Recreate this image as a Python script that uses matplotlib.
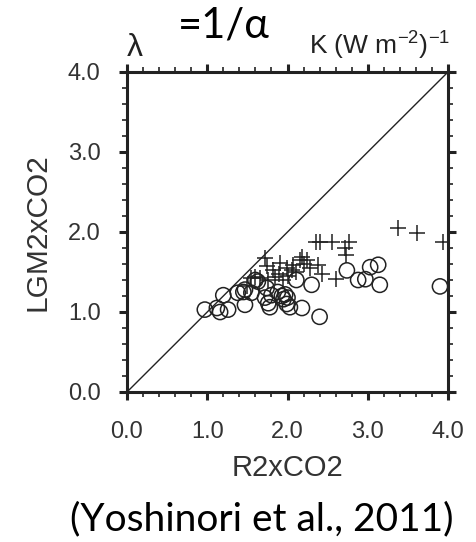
import numpy as np
import matplotlib
matplotlib.use('Agg')
import matplotlib.pyplot as plt
from matplotlib.ticker import MultipleLocator

# Daten
circle_x = [0.97, 1.12, 1.16, 1.26, 1.20, 1.38, 1.45, 1.47, 1.55, 1.47, 1.60, 1.63,
            1.74, 1.76, 1.78, 1.80, 1.93, 1.97, 2.00, 1.95, 2.03, 2.18, 2.11, 2.30,
            2.40, 2.74, 2.88, 2.97, 3.03, 3.13, 3.15, 3.90, 1.72, 1.88, 1.99]
circle_y = [1.03, 1.05, 1.00, 1.03, 1.21, 1.24, 1.25, 1.28, 1.24, 1.09, 1.40, 1.38,
            1.30, 1.11, 1.06, 1.21, 1.20, 1.22, 1.18, 1.16, 1.06, 1.05, 1.40, 1.34,
            0.94, 1.52, 1.40, 1.41, 1.56, 1.59, 1.34, 1.32, 1.18, 1.25, 1.10]

cross_x = [1.72, 1.74, 1.82, 1.91, 1.89, 1.99, 2.07, 2.18, 2.16, 2.24, 2.36, 1.60,
           1.66, 1.76, 1.55, 1.94, 2.00, 2.05, 2.10, 2.20, 2.38, 2.43, 2.60, 2.40,
           2.56, 2.72, 2.77, 2.73, 3.38, 3.61, 3.94, 1.50, 1.85, 2.28]
cross_y = [1.67, 1.57, 1.53, 1.61, 1.48, 1.55, 1.59, 1.69, 1.65, 1.65, 1.88, 1.44,
           1.42, 1.40, 1.42, 1.40, 1.45, 1.53, 1.50, 1.60, 1.59, 1.48, 1.41, 1.88,
           1.88, 1.80, 1.87, 1.71, 2.05, 1.99, 1.87, 1.33, 1.44, 1.55]

ticks = [0.0, 1.0, 2.0, 3.0, 4.0]
tick_labels = ['0.0', '1.0', '2.0', '3.0', '4.0']

W, H = 477, 542
fig = plt.figure(figsize=(W / 100, H / 100), dpi=100)
ax = fig.add_axes([127 / W, 1 - 392 / H, (448 - 127) / W, (392 - 72) / H])

arial = 'Liberation Sans'
txt_col = '#333333'

# 1:1 Linie
ax.plot([0, 4], [0, 4], color='#222222', lw=1.0, zorder=2)

ax.scatter(circle_x, circle_y, s=120, facecolors='none', edgecolors='#222222',
           linewidths=1.1, zorder=3)
ax.scatter(cross_x, cross_y, s=130, marker='+', color='#222222',
           linewidths=1.1, zorder=3)

ax.set_xlim(0, 4)
ax.set_ylim(0, 4)

for sp in ax.spines.values():
    sp.set_linewidth(2.2)
    sp.set_color('#222222')

ax.xaxis.set_major_locator(MultipleLocator(1.0))
ax.yaxis.set_major_locator(MultipleLocator(1.0))
ax.xaxis.set_minor_locator(MultipleLocator(0.2))
ax.yaxis.set_minor_locator(MultipleLocator(0.2))
ax.tick_params(which='both', direction='out', top=True, right=True,
               color='#222222')
ax.tick_params(which='major', length=6, width=2.2)
ax.tick_params(which='minor', length=3.5, width=1.2)
ax.set_xticks(ticks)
ax.set_yticks(ticks)
ax.set_xticklabels(tick_labels, fontfamily=arial, fontsize=17, color=txt_col)
ax.set_yticklabels(tick_labels, fontfamily=arial, fontsize=17, color=txt_col)
ax.tick_params(axis='x', pad=15)
ax.tick_params(axis='y', pad=13)

ax.set_xlabel('R2xCO2', fontfamily=arial, fontsize=21, color=txt_col, labelpad=8)
ax.set_ylabel('LGM2xCO2', fontfamily=arial, fontsize=21.5, color=txt_col, labelpad=12)

# Beschriftungen oben
fig.text(135 / W, 1 - 48 / H, 'λ', fontfamily=arial, fontsize=23, ha='center',
         va='center', color='#222222')
fig.text(450 / W, 1 - 54 / H, r'K (W m$^{\mathregular{-2}}$)$^{\mathregular{-1}}$',
         fontfamily=arial, fontsize=19, ha='right', va='baseline', color='#222222')
fig.text(224 / W, 1 - 38 / H, '=1/α', fontfamily='Lato', fontsize=30,
         ha='center', va='baseline', color='black')

fig.text(262 / W, 1 - 519 / H, '(Yoshinori et al., 2011)', fontfamily='Lato',
         fontsize=28, ha='center', va='center', color='black')

plt.savefig('out.png', dpi=100)
